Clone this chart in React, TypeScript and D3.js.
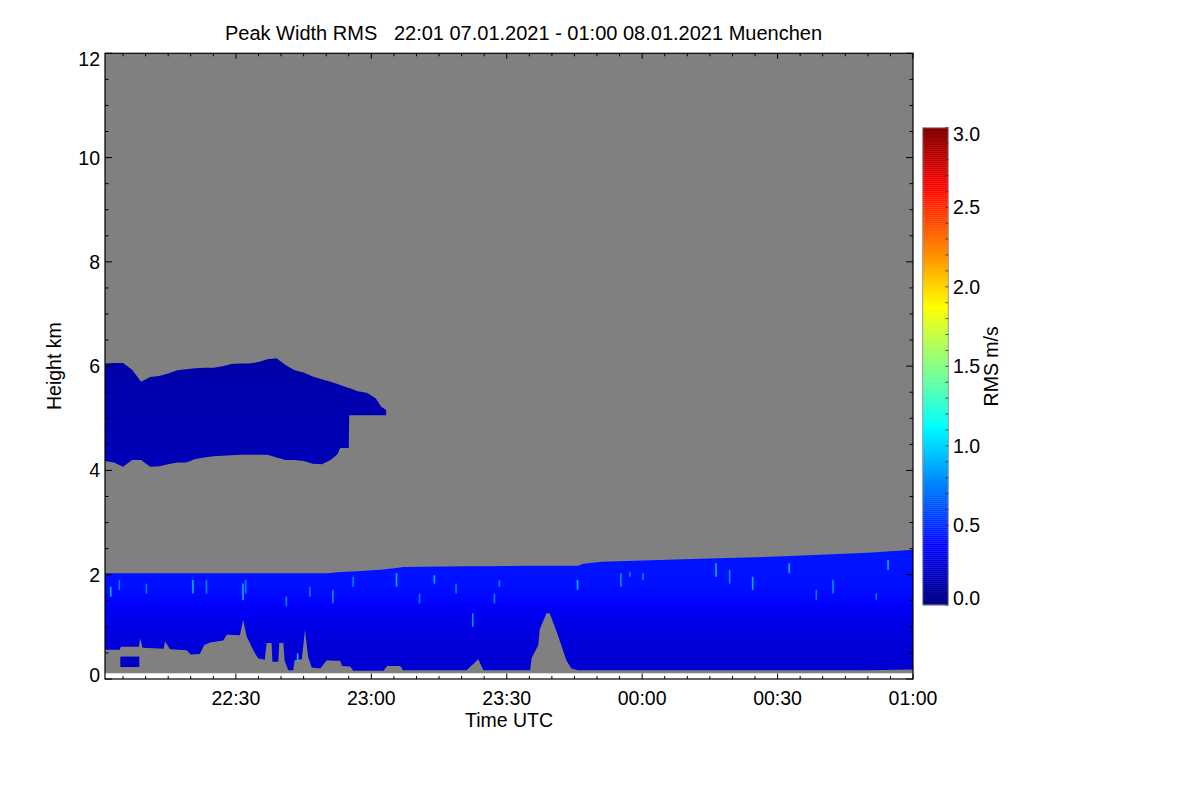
import React, { useRef, useEffect } from "react";
import * as d3 from "d3";

// time is in minutes after 22:00 UTC (07.01.2021), height in km, rms in m/s
const timeTicks = [30, 60, 90, 120, 150, 180];
const heightTicks = [0, 2, 4, 6, 8, 10, 12];
const rmsTicks = [0, 0.5, 1, 1.5, 2, 2.5, 3];

// upper cloud layer (4-6 km)
const upperMinutes = [1, 3, 5, 7, 9, 11, 13, 15, 17, 19, 21, 23, 25, 27, 29, 31, 33, 35, 37, 39, 41, 43, 45, 47, 49, 51, 52.5, 53.1, 55, 55.1, 57, 59, 61, 62.2, 63.3];
const upperTopKm = [6.05, 6.06, 6.06, 5.93, 5.7, 5.79, 5.81, 5.86, 5.92, 5.94, 5.96, 5.97, 5.97, 6.0, 6.04, 6.05, 6.05, 6.08, 6.13, 6.15, 6.02, 5.92, 5.88, 5.8, 5.75, 5.7, 5.66, 5.64, 5.58, 5.58, 5.52, 5.49, 5.38, 5.22, 5.16];
const upperBaseKm = [4.18, 4.15, 4.07, 4.2, 4.2, 4.07, 4.08, 4.12, 4.15, 4.15, 4.22, 4.25, 4.27, 4.28, 4.29, 4.3, 4.3, 4.3, 4.3, 4.25, 4.2, 4.2, 4.18, 4.13, 4.12, 4.2, 4.31, 4.43, 4.43, 5.06, 5.06, 5.06, 5.06, 5.06, 5.06];
const upperProfileKm = [4.0, 6.2];
const upperProfileRms = [0.17, 0.12];

// boundary layer (0-2.5 km)
const lowerMinutes = [1, 4.3, 4.5, 8.5, 8.8, 9.3, 14, 14.3, 15.4, 19.1, 20, 22, 23, 24.3, 27.2, 28, 30.9, 31.6, 32.4, 33.8, 34.9, 36.4, 36.8, 37.9, 38.1, 39.4, 39.6, 40.5, 40.8, 41.6, 42.7, 43, 44.6, 45.3, 46, 46.8, 48.7, 50.1, 51.6, 53.1, 53.5, 55.3, 56, 61, 62.7, 63.5, 66.4, 67, 81.1, 83.7, 84.8, 95.2, 95.5, 97, 97.3, 98.8, 99.5, 101, 102.5, 103.2, 104.3, 105.8, 107, 111, 131, 150, 170, 180];
const lowerTopKm = [2.03, 2.03, 2.03, 2.03, 2.03, 2.03, 2.03, 2.03, 2.03, 2.03, 2.03, 2.03, 2.03, 2.03, 2.03, 2.03, 2.03, 2.03, 2.03, 2.03, 2.03, 2.03, 2.03, 2.03, 2.03, 2.03, 2.03, 2.03, 2.03, 2.03, 2.03, 2.03, 2.03, 2.03, 2.03, 2.03, 2.03, 2.03, 2.04, 2.05, 2.05, 2.06, 2.06, 2.09, 2.1, 2.11, 2.14, 2.15, 2.16, 2.16, 2.16, 2.17, 2.17, 2.17, 2.17, 2.17, 2.17, 2.17, 2.17, 2.17, 2.17, 2.17, 2.21, 2.25, 2.3, 2.35, 2.42, 2.48];
const lowerBaseKm = [0.56, 0.56, 0.62, 0.62, 0.78, 0.6, 0.58, 0.72, 0.57, 0.55, 0.47, 0.48, 0.65, 0.7, 0.74, 0.85, 0.84, 1.13, 0.81, 0.56, 0.4, 0.37, 0.69, 0.69, 0.33, 0.33, 0.69, 0.69, 0.35, 0.17, 0.17, 0.36, 0.38, 0.94, 0.42, 0.22, 0.2, 0.36, 0.35, 0.35, 0.25, 0.24, 0.16, 0.16, 0.16, 0.25, 0.25, 0.17, 0.17, 0.38, 0.17, 0.17, 0.4, 0.65, 0.95, 1.26, 1.26, 0.92, 0.54, 0.36, 0.2, 0.17, 0.17, 0.17, 0.17, 0.17, 0.17, 0.18];
const lowerProfileKm = [0.1, 0.6, 1.0, 1.4, 1.8, 2.5];
const lowerProfileRms = [0.24, 0.26, 0.3, 0.36, 0.42, 0.44];

// small detached patch under the boundary layer
const patchMinutes = [4.4, 8.6];
const patchKm = [0.23, 0.43];
const patchRms = 0.2;

// brighter streaks inside the boundary layer
const streakMinutes = [2.1, 4.0, 10.0, 20.3, 23.3, 31.4, 32.0, 41.0, 43.5, 46.2, 51.3, 55.8, 65.4, 70.5, 73.8, 78.6, 82.3, 87.1, 88.2, 105.5, 115.1, 117.1, 120.0, 136.2, 139.2, 144.3, 152.4, 158.4, 162.1, 171.7, 174.3];
const streakTopKm = [1.77, 1.9, 1.83, 1.9, 1.9, 1.83, 1.9, 1.58, 0.49, 1.77, 1.71, 1.96, 2.03, 1.64, 1.99, 1.83, 1.26, 1.64, 1.9, 1.9, 2.03, 2.06, 2.03, 2.22, 2.09, 1.96, 2.22, 1.71, 1.9, 1.64, 2.28];
const streakBottomKm = [1.58, 1.71, 1.64, 1.64, 1.64, 1.51, 1.64, 1.39, 0.33, 1.58, 1.45, 1.77, 1.77, 1.45, 1.83, 1.64, 1.0, 1.45, 1.77, 1.71, 1.77, 1.96, 1.9, 1.96, 1.83, 1.71, 2.03, 1.52, 1.64, 1.52, 2.09];
const streakRms = [0.9, 0.75, 0.75, 0.9, 0.75, 0.9, 0.75, 0.75, 0.95, 0.75, 0.8, 0.75, 0.9, 0.75, 0.9, 0.75, 0.8, 0.75, 0.75, 0.9, 0.8, 0.75, 0.75, 0.9, 0.8, 0.9, 0.9, 0.75, 0.8, 0.75, 0.9];

const jet = (v: number) => {
  const t = Math.max(0, Math.min(1, v / 3));
  const f = (c: number) =>
    Math.round(255 * Math.max(0, Math.min(1, 1.5 - Math.abs(4 * t - c))));
  return `rgb(${f(3)},${f(2)},${f(1)})`;
};

const clockLabel = (m: number) => {
  const total = (22 * 60 + m) % 1440;
  const hh = Math.floor(total / 60);
  const mm = total % 60;
  return `${String(hh).padStart(2, "0")}:${String(mm).padStart(2, "0")}`;
};

const FONT = "'Liberation Sans', Arial, Helvetica, sans-serif";
const FS = 19.5;

const App: React.FC = () => {
  const ref = useRef<SVGSVGElement | null>(null);

  useEffect(() => {
    const svg = d3.select(ref.current);
    svg.selectAll("*").remove();

    const left = 105;
    const right = 913;
    const top = 53.3;
    const bottom = 679;

    const x = d3.scaleLinear().domain([1, 180]).range([left, right]);
    const y = d3.scaleLinear().domain([0, 12]).range([bottom, top]);

    const defs = svg.append("defs");
    defs
      .append("clipPath")
      .attr("id", "plotClip")
      .append("rect")
      .attr("x", left)
      .attr("y", top)
      .attr("width", right - left)
      .attr("height", bottom - top);

    const addGradient = (id: string, kms: number[], rms: number[]) => {
      const k0 = kms[0];
      const k1 = kms[kms.length - 1];
      const g = defs
        .append("linearGradient")
        .attr("id", id)
        .attr("gradientUnits", "userSpaceOnUse")
        .attr("x1", 0)
        .attr("x2", 0)
        .attr("y1", y(k0))
        .attr("y2", y(k1));
      kms.forEach((k, i) => {
        g.append("stop")
          .attr("offset", (k - k0) / (k1 - k0))
          .attr("stop-color", jet(rms[i]));
      });
    };
    addGradient("lowerGrad", lowerProfileKm, lowerProfileRms);
    addGradient("upperGrad", upperProfileKm, upperProfileRms);

    const plot = svg.append("g").attr("clip-path", "url(#plotClip)");

    // missing-data background
    plot
      .append("rect")
      .attr("x", x(1))
      .attr("y", y(12))
      .attr("width", x(180) - x(1))
      .attr("height", y(0.11) - y(12))
      .attr("fill", "#808080");

    const layer = (mins: number[], tops: number[], bases: number[]) =>
      d3
        .area<number>()
        .x((i) => x(mins[i]))
        .y0((i) => y(bases[i]))
        .y1((i) => y(tops[i]))(d3.range(mins.length));

    plot
      .append("path")
      .attr("d", layer(upperMinutes, upperTopKm, upperBaseKm) || "")
      .attr("fill", "url(#upperGrad)");

    plot
      .append("path")
      .attr("d", layer(lowerMinutes, lowerTopKm, lowerBaseKm) || "")
      .attr("fill", "url(#lowerGrad)");

    plot
      .append("rect")
      .attr("x", x(patchMinutes[0]))
      .attr("y", y(patchKm[1]))
      .attr("width", x(patchMinutes[1]) - x(patchMinutes[0]))
      .attr("height", y(patchKm[0]) - y(patchKm[1]))
      .attr("fill", jet(patchRms));

    plot
      .selectAll("rect.streak")
      .data(d3.range(streakMinutes.length))
      .enter()
      .append("rect")
      .attr("class", "streak")
      .attr("x", (i) => x(streakMinutes[i]))
      .attr("y", (i) => y(streakTopKm[i]))
      .attr("width", 1.6)
      .attr("height", (i) => y(streakBottomKm[i]) - y(streakTopKm[i]))
      .attr("fill", (i) => jet(streakRms[i]));

    // frame
    svg
      .append("rect")
      .attr("x", left)
      .attr("y", top)
      .attr("width", right - left)
      .attr("height", bottom - top)
      .attr("fill", "none")
      .attr("stroke", "#000")
      .attr("stroke-width", 1.2);

    const ticks = svg.append("g").attr("stroke", "#000").attr("stroke-width", 1);

    d3.range(5, 181, 5).forEach((m) => {
      const len = m % 30 === 0 ? 5.5 : 3;
      const px = x(m);
      ticks.append("line").attr("x1", px).attr("x2", px).attr("y1", bottom).attr("y2", bottom - len);
      ticks.append("line").attr("x1", px).attr("x2", px).attr("y1", top).attr("y2", top + len);
    });

    d3.range(0, 12.01, 0.5).forEach((h) => {
      const len = h % 2 === 0 ? 7 : 3.5;
      const py = y(h);
      ticks.append("line").attr("x1", left).attr("x2", left + len).attr("y1", py).attr("y2", py);
      ticks.append("line").attr("x1", right).attr("x2", right - len).attr("y1", py).attr("y2", py);
    });

    const text = svg
      .append("g")
      .attr("font-family", FONT)
      .attr("font-size", FS)
      .attr("fill", "#000");

    timeTicks.forEach((m) => {
      text
        .append("text")
        .attr("x", x(m))
        .attr("y", 705)
        .attr("text-anchor", "middle")
        .text(clockLabel(m));
    });

    heightTicks.forEach((h) => {
      const py = Math.min(Math.max(y(h), top + 6), bottom - 4);
      text
        .append("text")
        .attr("x", 100)
        .attr("y", py)
        .attr("dy", "0.36em")
        .attr("text-anchor", "end")
        .text(String(h));
    });

    text
      .append("text")
      .attr("x", 523.5)
      .attr("y", 40)
      .attr("text-anchor", "middle")
      .attr("font-size", 20)
      .attr("xml:space", "preserve")
      .style("white-space", "pre")
      .text("Peak Width RMS   22:01 07.01.2021 - 01:00 08.01.2021 Muenchen");

    text
      .append("text")
      .attr("x", (left + right) / 2)
      .attr("y", 727)
      .attr("text-anchor", "middle")
      .text("Time UTC");

    text
      .append("text")
      .attr("transform", `translate(61,${(top + bottom) / 2}) rotate(-90)`)
      .attr("text-anchor", "middle")
      .text("Height km");

    // colour bar
    const cbLeft = 922.7;
    const cbRight = 948.3;
    const cbTop = 127.7;
    const cbBottom = 605;
    const c = d3.scaleLinear().domain([0, 3]).range([cbBottom, cbTop]);
    const bands = 240;
    const step = 3 / bands;
    const bar = svg.append("g");
    d3.range(bands).forEach((i) => {
      const v0 = i * step;
      bar
        .append("rect")
        .attr("x", cbLeft)
        .attr("y", c(v0 + step))
        .attr("width", cbRight - cbLeft)
        .attr("height", c(v0) - c(v0 + step) + 0.3)
        .attr("fill", jet(v0 + step / 2));
    });
    bar
      .append("rect")
      .attr("x", cbLeft)
      .attr("y", cbTop)
      .attr("width", cbRight - cbLeft)
      .attr("height", cbBottom - cbTop)
      .attr("fill", "none")
      .attr("stroke", "#9a9a9a")
      .attr("stroke-width", 1);
    d3.range(0, 3.001, 0.1).forEach((v) => {
      bar
        .append("line")
        .attr("x1", cbRight)
        .attr("x2", cbRight - 3)
        .attr("y1", c(v))
        .attr("y2", c(v))
        .attr("stroke", "#333")
        .attr("stroke-width", 0.8);
    });

    rmsTicks.forEach((v) => {
      const py = Math.min(Math.max(c(v), cbTop + 6.3), cbBottom - 6.7);
      text
        .append("text")
        .attr("x", 953)
        .attr("y", py)
        .attr("dy", "0.36em")
        .text(d3.format(".1f")(v));
    });

    text
      .append("text")
      .attr("transform", `translate(998,${(cbTop + cbBottom) / 2}) rotate(-90)`)
      .attr("text-anchor", "middle")
      .text("RMS m/s");
  }, []);

  return (
    <div style={{ position: "absolute", left: 0, top: 0 }}>
      <svg ref={ref} width={1200} height={800} style={{ display: "block", background: "#fff" }}></svg>
    </div>
  );
};

export default App;
